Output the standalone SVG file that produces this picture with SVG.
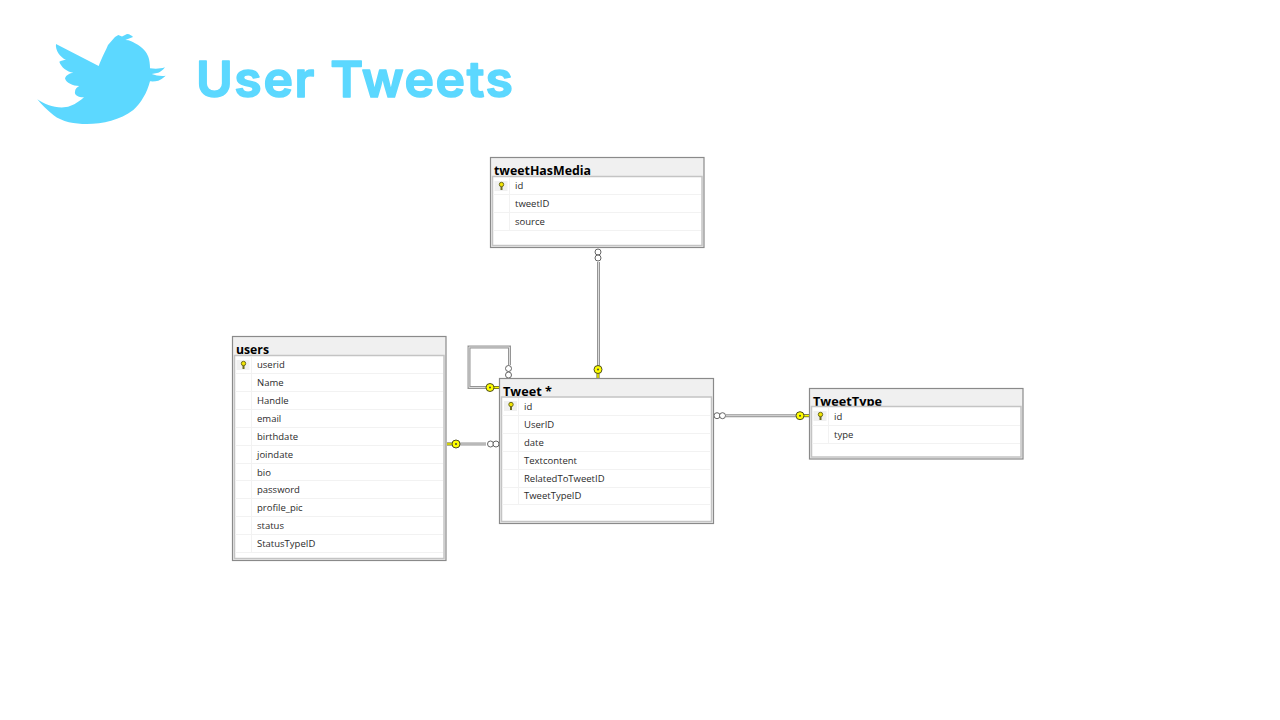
<svg xmlns="http://www.w3.org/2000/svg" width="1280" height="720" viewBox="0 0 1280 720">
<style>
.title{font:600 50px Inter,"Liberation Sans",sans-serif;fill:#5cd8ff;stroke:#5cd8ff;stroke-width:1.500;stroke-linejoin:round}
.name{font:bold 13px "Open Sans","Liberation Sans",sans-serif;fill:#000}
.col{font:9.500px "Open Sans","Liberation Sans",sans-serif;fill:#2b2b2b}
.outer{fill:#f0f0f0;stroke:#8a8a8a;stroke-width:1.200}
.inner{fill:#fff;stroke:#c4c4c4;stroke-width:1.500}
.row{stroke:#f2f2f2;stroke-width:1;fill:none}
.l1{fill:none;stroke:#959595;stroke-width:3}
.l2{fill:none;stroke:#dcdcdc;stroke-width:1}
.o{fill:#fff;stroke:#555;stroke-width:.9}
.k{fill:#ffff00;stroke:#4f4f20;stroke-width:1}
.ks{stroke:#5f5f20;stroke-width:3;fill:none}
.ks2{stroke:#ffff00;stroke-width:1.400;fill:none}
</style>
<defs>
<g id="ik"><rect x="-7" y="-5" width="13" height="10" fill="#f0f0f0"/><path d="M0 0V4" stroke="#6b6b20" stroke-width="2"/><circle cx="0" cy="-1.500" r="2.200" fill="#f2e400" stroke="#6b6b20" stroke-width="1"/></g>
</defs>
<g id="logo">
<path fill="#5cd8ff" d="M56 44L98.700 66C102 57 106 50 108 45L115 37L118.300 35L122 36.500L127 34C130 34 132 36 133 37L125.300 40C130 40 133 42 135 43.300C143 47 147 53 148.300 56.700C149.500 60 150 64 150 68.300C155 69 160 69 165 67.300C163 70 160 72 158.300 72.700L151.700 74C156 75.500 161 76.500 165.700 75.700C163 78.500 160 80 158.300 80.700C156 81.300 153 81.500 150 81.300C147 93 141 103 133.300 110C120 120 103 124 86.700 124C75 124 62 122 53.300 115C47 110 41 104 37.300 99.300C45 105 60 110 70 106C76 104 81 100 84 97.300C79 97.500 74 95 75 91.700C75 89 77 87 79.300 86C73 86 66 83 65 78.300C66 75 70 73 73.300 72.700C67 72 61 67 59.300 61.700C61 60.500 64 60 66 60C60 57 55 50 56 44Z"/>
<text class="title" x="196" y="97" textLength="317" lengthAdjust="spacing">User Tweets</text>
</g>
<g id="connectors">
<path class="l1" d="M598.500 262V366"/><path class="l2" d="M598.500 262V366"/>
<circle class="o" cx="598" cy="252" r="3"/><circle class="o" cx="598" cy="258" r="3"/>
<path class="ks" d="M598 372V378"/><path class="ks2" d="M598 372V378"/><circle class="k" cx="598" cy="369.500" r="4"/><circle cx="598" cy="369.500" r="1" fill="#444"/>
<path class="l1" d="M486 387.500H469V347H509.500V365"/><path class="l2" d="M486 387.500H469V347H509.500V365"/>
<circle class="o" cx="508.500" cy="368.500" r="3"/><circle class="o" cx="508.500" cy="375" r="3"/>
<path class="ks" d="M492 387.500H499"/><path class="ks2" d="M492 387.500H499"/><circle class="k" cx="490" cy="387.500" r="4"/><circle cx="490" cy="387.500" r="1" fill="#444"/>
<path class="l1" d="M459 444H486"/><path class="l2" d="M459 444H486"/>
<circle class="o" cx="490.500" cy="444" r="3"/><circle class="o" cx="496" cy="444" r="3"/>
<path class="ks" d="M447 444H454"/><path class="ks2" d="M447 444H454"/><circle class="k" cx="456" cy="444" r="4"/><circle cx="456" cy="444" r="1" fill="#444"/>
<path class="l1" d="M726 415.700H797"/><path class="l2" d="M726 415.700H797"/>
<circle class="o" cx="717" cy="415.700" r="3"/><circle class="o" cx="722.500" cy="415.700" r="3"/>
<path class="ks" d="M802 415.700H809"/><path class="ks2" d="M802 415.700H809"/><circle class="k" cx="800" cy="415.700" r="4"/><circle cx="800" cy="415.700" r="1" fill="#444"/>
</g>
<g id="tweetHasMedia">
<rect class="outer" x="490.500" y="157.500" width="213.500" height="90"/>
<text class="name" x="494" y="175" textLength="97" lengthAdjust="spacingAndGlyphs">tweetHasMedia</text>
<rect class="inner" x="492.500" y="176.500" width="209.500" height="69"/>
<path class="row" d="M493 194.500H701M493 212.500H701M493 230.500H701M509.500 178V230"/>
<use href="#ik" x="501.500" y="186"/>
<text class="col" x="515" y="189">id</text><text class="col" x="515" y="207">tweetID</text><text class="col" x="515" y="225">source</text>
</g>
<g id="users">
<rect class="outer" x="232.500" y="336.500" width="213.500" height="224"/>
<text class="name" x="236" y="354" textLength="33" lengthAdjust="spacingAndGlyphs">users</text>
<rect class="inner" x="234.500" y="355.500" width="209.500" height="203"/>
<path class="row" d="M235 373.500H443M235 391.500H443M235 409.500H443M235 427.500H443M235 445.500H443M235 463.500H443M235 480.500H443M235 498.500H443M235 516.500H443M235 534.500H443M235 552.500H443M251.500 357V552"/>
<use href="#ik" x="243.500" y="365"/>
<text class="col" x="257" y="367.500">userid</text><text class="col" x="257" y="385.500">Name</text><text class="col" x="257" y="403.500">Handle</text><text class="col" x="257" y="421.500">email</text><text class="col" x="257" y="439.500">birthdate</text><text class="col" x="257" y="457.500">joindate</text><text class="col" x="257" y="475.500">bio</text><text class="col" x="257" y="493">password</text><text class="col" x="257" y="511">profile_pic</text><text class="col" x="257" y="528.500">status</text><text class="col" x="257" y="546.500">StatusTypeID</text>
</g>
<g id="tweet">
<rect class="outer" x="499.500" y="378.500" width="214" height="145"/>
<text class="name" x="503" y="396" textLength="49" lengthAdjust="spacingAndGlyphs">Tweet *</text>
<rect class="inner" x="501.500" y="397" width="210" height="124.500"/>
<path class="row" d="M502 415.500H711M502 433.500H711M502 451.500H711M502 469.500H711M502 487.500H711M502 504.500H711M518.500 398V504"/>
<use href="#ik" x="511" y="406"/>
<text class="col" x="524" y="409.500">id</text><text class="col" x="524" y="427.500">UserID</text><text class="col" x="524" y="445.500">date</text><text class="col" x="524" y="463.500">Textcontent</text><text class="col" x="524" y="481.500">RelatedToTweetID</text><text class="col" x="524" y="499">TweetTypeID</text>
</g>
<g id="tweetType">
<rect class="outer" x="809.500" y="388.500" width="213.500" height="70.500"/>
<text class="name" x="813" y="405.500" textLength="69" lengthAdjust="spacingAndGlyphs">TweetType</text>
<rect class="inner" x="811.500" y="406.500" width="209.500" height="50.500"/>
<path class="row" d="M812 425.500H1020M812 443.500H1020M828.500 408V443"/>
<use href="#ik" x="820.500" y="416"/>
<text class="col" x="834" y="419.500">id</text><text class="col" x="834" y="437.500">type</text>
</g>
</svg>
